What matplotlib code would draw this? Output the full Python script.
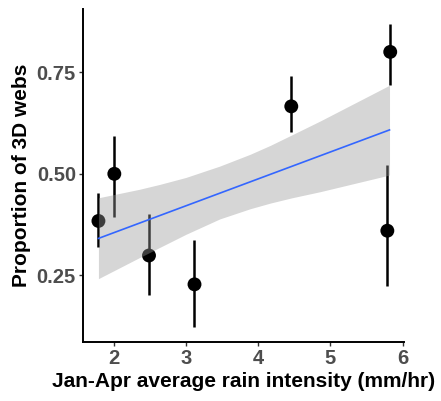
import matplotlib
matplotlib.use("Agg")
import matplotlib.pyplot as plt
import numpy as np

# Data
rain = [1.79, 2.01, 2.49, 3.12, 4.46, 5.83, 5.79]
prop = [0.384, 0.500, 0.299, 0.228, 0.666, 0.800, 0.360]
err_low = [0.319, 0.393, 0.202, 0.123, 0.602, 0.718, 0.223]
err_high = [0.452, 0.593, 0.402, 0.338, 0.741, 0.868, 0.521]

fit_x = [1.79, 5.82]
fit_y = [0.341, 0.608]

band_x = [1.79, 2.36, 2.64, 3.00, 3.47, 3.89, 4.17, 4.47, 4.86, 5.82]
band_low = [0.242, 0.294, 0.319, 0.351, 0.389, 0.414, 0.428, 0.441, 0.456, 0.497]
band_high = [0.441, 0.462, 0.474, 0.491, 0.519, 0.548, 0.570, 0.596, 0.630, 0.718]

xticks = [2, 3, 4, 5, 6]
yticks = [0.25, 0.50, 0.75]
ytick_labels = ["0.25", "0.50", "0.75"]

plt.rcParams['font.family'] = ['Liberation Sans', 'DejaVu Sans']

fig = plt.figure(figsize=(4.41, 4.01), dpi=100)
ax = fig.add_axes([0.188, 0.147, 0.728, 0.831])

ax.vlines(rain, err_low, err_high, color='black', linewidth=1.8, zorder=2)
ax.scatter(rain, prop, s=100, color='black', zorder=3, edgecolors='none')

ax.fill_between(band_x, band_low, band_high, color='#999999', alpha=0.4,
                linewidth=0, zorder=4)
ax.plot(fit_x, fit_y, color='#3366FF', linewidth=1.2, zorder=5)

ax.set_xlim(1.575, 6.02)
ax.set_ylim(0.086, 0.906)
ax.set_xticks(xticks)
ax.set_xticklabels([str(t) for t in xticks])
ax.set_yticks(yticks)
ax.set_yticklabels(ytick_labels)

for s in ['top', 'right']:
    ax.spines[s].set_visible(False)
for s in ['left', 'bottom']:
    ax.spines[s].set_linewidth(1.4)
    ax.spines[s].set_color('black')

ax.tick_params(axis='both', length=3, width=1.0, color='#333333',
               labelsize=14.5, labelcolor='#4D4D4D', pad=2)
for lab in ax.get_xticklabels() + ax.get_yticklabels():
    lab.set_fontweight('bold')

ax.set_xlabel('Jan-Apr average rain intensity (mm/hr)', fontsize=15,
              fontweight='bold', color='black', labelpad=3)
ax.set_ylabel('Proportion of 3D webs', fontsize=15, fontweight='bold',
              color='black', labelpad=4)

fig.savefig('out.png', dpi=100)
